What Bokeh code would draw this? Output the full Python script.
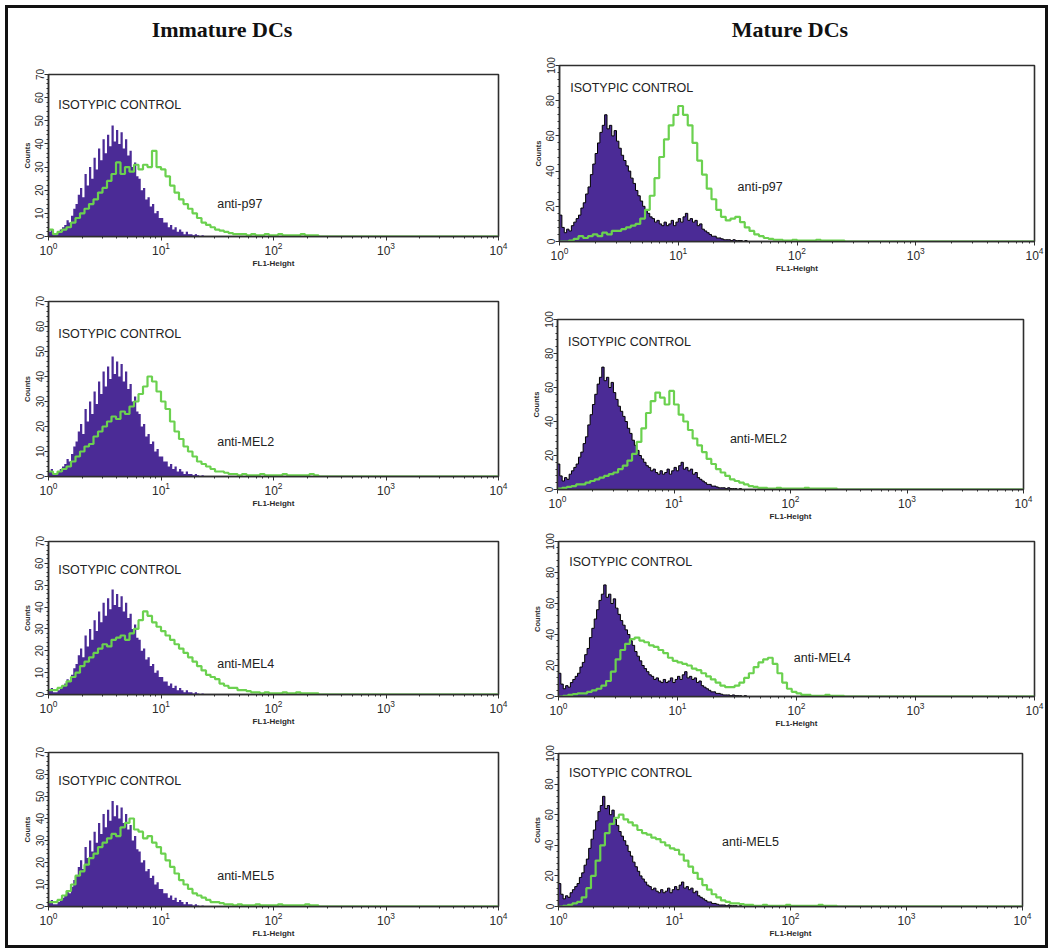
import numpy as np
from bokeh.plotting import figure
from bokeh.models import Range1d, SingleIntervalTicker, Label, Div
from bokeh.layouts import column, row
from bokeh.embed import file_html
from bokeh.resources import INLINE

# ---------------- data ----------------
# isotypic-control histograms: channels 0.02 decade wide, starting at 10^0
CONTROL_CHANNEL_DECADES = 0.02
# stained histograms: channels 0.04 decade wide, starting at 10^0
STAINED_CHANNEL_DECADES = 0.04
X_MIN, X_MAX = 1, 10_000

IMM_CONTROL = [2, 3, 1, 1, 2, 3, 4, 5, 7, 6,
               9, 12, 14, 18, 21, 17, 27, 22, 30, 25,
               34, 29, 38, 33, 42, 36, 44, 39, 48, 41,
               46, 40, 45, 38, 42, 35, 37, 30, 32, 26,
               25, 20, 21, 16, 17, 13, 14, 10, 11, 8,
               8, 6, 6, 4, 5, 3, 4, 2, 3, 2,
               1, 2, 1, 1, 0.5, 1, 0.5, 0, 0.5, 0]
MAT_CONTROL = [15, 8, 5, 7, 6, 9, 11, 13, 15, 19,
               22, 27, 31, 38, 44, 50, 56, 62, 66, 72,
               64, 66, 60, 63, 57, 53, 49, 46, 43, 40,
               36, 33, 29, 26, 23, 20, 18, 16, 14, 13,
               11, 12, 10, 9, 11, 9, 10, 12, 9, 11,
               13, 11, 14, 16, 12, 13, 11, 12, 9, 10,
               7, 6, 5, 4, 3, 3, 2, 2, 1.5, 1,
               1, 1, 0.5, 1, 0.5, 0.5, 0.5, 0, 0.5, 0]

IMM_P97 = [3, 1, 2, 3, 4, 6, 8, 10, 12, 14, 16, 19, 21, 24, 27, 32, 27, 30, 28, 31,
           29, 31, 30, 37, 30, 29, 26, 22, 19, 16, 14, 12, 10, 8, 6, 5, 4, 3, 2.5, 2,
           1.5, 1, 1, 1, 0.5, 1, 0.5, 0.5, 1, 0.5, 0.5, 1, 0.5, 0.5, 0.5, 0.5, 1, 0.5, 0.5, 0.5]
IMM_MEL2 = [2, 1, 2, 3, 4, 6, 8, 10, 12, 13, 16, 18, 20, 22, 24, 23, 26, 25, 28, 30,
            33, 36, 40, 38, 34, 30, 27, 22, 18, 15, 12, 10, 8, 6, 5, 4, 3, 2, 2, 1.5,
            1, 1, 0.5, 1, 0.5, 0.5, 0.5, 1, 0.5, 0.5, 0.5, 0.5, 1, 0.5, 0.5, 0.5, 0.5, 0.5, 1, 0.5]
IMM_MEL4 = [2, 2, 3, 4, 6, 8, 10, 13, 15, 17, 19, 21, 23, 22, 25, 26, 27, 25, 28, 30,
            34, 38, 36, 33, 31, 29, 27, 25, 23, 21, 19, 17, 15, 13, 11, 9, 8, 7, 5, 4,
            3, 3, 2, 2, 1.5, 1, 1, 0.5, 1, 0.5, 0.5, 0.5, 1, 0.5, 0.5, 1, 0.5, 0.5, 0.5, 0.5]
IMM_MEL5 = [2, 2, 3, 5, 7, 10, 14, 16, 19, 22, 24, 27, 29, 31, 33, 32, 36, 38, 40, 35,
            34, 31, 32, 29, 27, 24, 21, 18, 15, 12, 10, 8, 6, 5, 4, 3, 2, 2, 1.5, 1,
            1, 0.5, 1, 0.5, 0.5, 0.5, 1, 0.5, 0.5, 0.5, 0.5, 1, 0.5, 0.5, 0.5, 0.5, 0.5, 1, 0.5, 0.5]

MAT_P97 = [0, 0, 0.5, 1.5, 3, 2, 3, 4, 3, 5, 4, 6, 6, 7, 8, 9, 10, 13, 18, 26,
           36, 48, 58, 66, 72, 77, 72, 66, 56, 46, 38, 30, 24, 18, 14, 12, 13, 14, 11, 8,
           6, 4, 3, 2, 1.5, 1, 1, 0.5, 0.5, 1, 0.5, 0.5, 0.5, 0.5, 1, 0.5, 0.5, 0.5, 0.5, 0.5]
MAT_MEL2 = [0.5, 1, 1.5, 2, 3, 3, 4, 5, 6, 7, 8, 9, 10, 12, 14, 17, 21, 28, 36, 45,
            52, 57, 54, 50, 58, 50, 44, 40, 35, 30, 26, 22, 18, 15, 12, 10, 8, 6, 5, 4,
            3, 2, 1.5, 1, 1, 0.5, 0.5, 1, 0.5, 0.5, 0.5, 0.5, 0.5, 1, 0.5, 0.5, 0.5, 0.5, 0.5, 0.5]
MAT_MEL4 = [0, 0.5, 1, 1.5, 2, 2, 3, 4, 5, 7, 10, 16, 24, 30, 34, 37, 38, 36, 35, 33,
            32, 30, 28, 25, 23, 22, 21, 20, 18, 17, 15, 13, 11, 9, 7, 6, 6, 7, 9, 12,
            15, 19, 22, 24, 25, 21, 15, 9, 5, 3, 2, 1, 1, 0.5, 0.5, 0.5, 1, 0.5, 0.5, 0.5]
MAT_MEL5 = [0, 0.5, 1, 2, 3, 6, 12, 20, 30, 40, 48, 54, 58, 60, 57, 55, 53, 50, 48, 47,
            45, 44, 42, 40, 38, 37, 34, 30, 26, 22, 18, 14, 11, 8, 6, 4, 3, 2, 2, 1.5,
            1, 1, 0.5, 0.5, 1, 0.5, 0.5, 0.5, 0.5, 1, 0.5, 0.5, 0.5, 0.5, 0.5, 0.5, 1, 0.5, 0.5, 0.5]

COLUMN_TITLES = ["Immature DCs", "Mature DCs"]
MARKERS = ["anti-p97", "anti-MEL2", "anti-MEL4", "anti-MEL5"]
CONTROLS = [IMM_CONTROL, MAT_CONTROL]
STAINED = [[IMM_P97, IMM_MEL2, IMM_MEL4, IMM_MEL5],
           [MAT_P97, MAT_MEL2, MAT_MEL4, MAT_MEL5]]
Y_MAX = [70, 100]
Y_STEP = [10, 20]
CONTROL_LABEL = "ISOTYPIC CONTROL"
X_LABEL = "FL1-Height"
Y_LABEL = "Counts"

# ---------------- style / layout ----------------
PURPLE = "#4b2b96"
GREEN = "#6bd14f"
FRAME = "#2e2e2e"
FONT = "Liberation Sans"
HEADER_H = 50

# (border_left, frame_w, border_right, border_top, frame_h, border_bottom)
GEOM = [
    [(48, 450, 30, 24, 164, 32), (48, 450, 30, 31, 177, 32),
     (48, 450, 30, 31, 157, 30), (48, 450, 30, 24, 161, 27)],
    [(31, 475, 14, 15, 178, 32), (29, 466, 25, 44, 172, 32),
     (30, 476, 14, 18, 161, 28), (30, 464, 26, 23, 162, 25)],
]
# annotation anchors in data units: (control x, control y), (marker x, marker y)
LABEL_POS = [
    [((1.22, 57), (31.6, 14))] * 4,
    [((1.23, 87), (31.6, 31)), ((1.23, 87), (30.2, 30)),
     ((1.23, 87), (95.0, 25)), ((1.23, 87), (25.7, 42))],
]


def channel_edges(n, width_decades):
    return 10 ** (np.arange(n + 1) * width_decades)


def make_panel(col, r):
    bl, fw, br, bt, fh, bb = GEOM[col][r]
    ymax = Y_MAX[col]
    p = figure(width=bl + fw + br, height=bt + fh + bb,
               x_axis_type="log", x_range=Range1d(X_MIN, X_MAX), y_range=Range1d(0, ymax),
               output_backend="svg", toolbar_location=None,
               min_border_left=bl, min_border_right=br, min_border_top=bt, min_border_bottom=bb)
    p.grid.visible = False
    p.outline_line_color = FRAME
    p.outline_line_width = 1.6
    p.background_fill_color = "white"
    p.border_fill_color = "white"

    control = list(CONTROLS[col]) + [0]
    cx_edges = channel_edges(len(CONTROLS[col]), CONTROL_CHANNEL_DECADES)
    p.varea_step(x=cx_edges, y1=np.zeros(len(cx_edges)), y2=control, step_mode="after",
                 fill_color=PURPLE)
    if col == 1:
        p.step(x=cx_edges, y=control, mode="after", line_color="black", line_width=1)

    stained = list(STAINED[col][r]) + [0, 0]
    sx = list(channel_edges(len(STAINED[col][r]), STAINED_CHANNEL_DECADES)) + [X_MAX]
    p.step(x=sx, y=stained, mode="after", line_color=GREEN, line_width=2.2)

    for ax in (p.xaxis[0], p.yaxis[0]):
        ax.axis_line_color = FRAME
        ax.axis_line_width = 1.4
        ax.major_tick_line_color = FRAME
        ax.minor_tick_line_color = FRAME
        ax.major_tick_in = 0
        ax.major_tick_out = 4
        ax.minor_tick_in = 0
        ax.minor_tick_out = 2
        ax.major_label_text_font = FONT
        ax.major_label_text_color = "#2a2a2a"
        ax.axis_label_text_font = FONT
        ax.axis_label_text_font_style = "bold"
        ax.axis_label_text_font_size = "8px"
        ax.axis_label_text_color = "#2a2a2a"
        ax.major_label_standoff = 1
        ax.axis_label_standoff = 1
    p.xaxis.axis_label = X_LABEL
    p.xaxis.major_label_text_font_size = "12px"
    p.yaxis.axis_label = Y_LABEL
    p.yaxis.axis_label_text_font_size = "7.5px"
    p.yaxis.major_label_text_font_size = "10px"
    p.yaxis.major_label_orientation = "vertical"
    p.yaxis.ticker = SingleIntervalTicker(interval=Y_STEP[col], num_minor_ticks=5)

    (cx, cy), (mx, my) = LABEL_POS[col][r]
    p.add_layout(Label(x=cx, y=cy, text=CONTROL_LABEL, text_font=FONT, text_font_size="12.5px",
                       text_color="#222222", text_baseline="middle"))
    p.add_layout(Label(x=mx, y=my, text=MARKERS[r], text_font=FONT, text_font_size="12.5px",
                       text_color="#222222", text_baseline="middle"))
    return p


TITLE_CENTERS = [222, 262]   # px inside each column header
FRAME_BOX = ('<div style="position:fixed;left:5px;top:5px;width:1043px;height:943px;z-index:9999;'
             'box-sizing:border-box;border:3px solid #111;pointer-events:none;"></div>')


def header(col, width):
    c = TITLE_CENTERS[col]
    html = (f'<div style="position:relative;width:{width}px;height:{HEADER_H}px;">'
            f'<div style="position:absolute;left:{c - 120}px;width:240px;top:18px;text-align:center;'
            f"font-family:'Liberation Serif';font-weight:bold;font-size:22px;color:#111;line-height:24px;\">"
            f'{COLUMN_TITLES[col]}</div></div>')
    if col == 0:
        html = FRAME_BOX + html
    return Div(text=html, width=width, height=HEADER_H, margin=0)


cols = []
for col in range(2):
    width = GEOM[col][0][0] + GEOM[col][0][1] + GEOM[col][0][2]
    # each panel in its own wrapper so that frames are not aligned across the column
    panels = [row(make_panel(col, r), spacing=0) for r in range(4)]
    cols.append(column(header(col, width), *panels, spacing=0))

layout = row(*cols, spacing=0)

open("out.html", "w").write(file_html(layout, INLINE))
